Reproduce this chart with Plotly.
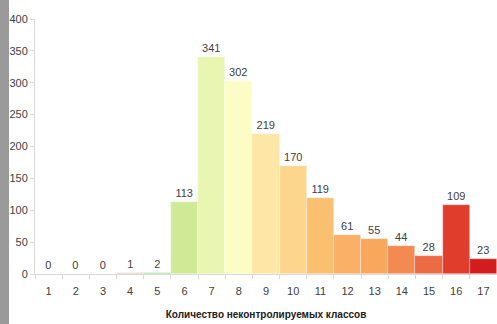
import plotly.graph_objects as go

# Number of uncontrolled classes and how many cases fall into each
classes = [str(i) for i in range(1, 18)]
counts = [0, 0, 0, 1, 2, 113, 341, 302, 219, 170, 119, 61, 55, 44, 28, 109, 23]
bar_colors = ["#f2d8d0", "#f2d8d0", "#f2d8d0", "#e2b4ac", "#7fd06a", "#cfe996",
              "#e8f6b2", "#fcfdc4", "#fde6a6", "#fdd68e", "#fbbf70", "#fab066",
              "#f9a75c", "#f28a52", "#ec6b45", "#e13d2d", "#d31c1e"]
y_ticks = [0, 50, 100, 150, 200, 250, 300, 350, 400]
x_title = "Количество неконтролируемых классов"

font_family = "Liberation Sans Narrow, Arial Narrow, Liberation Sans, Arial"

fig = go.Figure(go.Bar(
    x=classes, y=counts,
    marker=dict(color=bar_colors, line=dict(color="rgba(255,255,255,0.6)", width=0.6)),
    text=[str(v) for v in counts], textposition="outside",
    textfont=dict(family=font_family, size=11, color="#404040"),
    cliponaxis=False,
))

fig.update_layout(
    width=497, height=324,
    margin=dict(l=35, r=0, t=19, b=50),
    paper_bgcolor="white", plot_bgcolor="white",
    bargap=0, showlegend=False,
    font=dict(family=font_family, size=11, color="#404040"),
    xaxis=dict(
        type="category", showgrid=False,
        showline=True, linecolor="#d9d9d9", linewidth=1,
        ticks="outside", ticklen=4, tickcolor="#d9d9d9",
        tickson="boundaries", ticklabelstandoff=7,
        tickfont=dict(size=11, color="#404040"),
        title=dict(text="<b>" + x_title + "</b>", font=dict(size=10, color="#202020"), standoff=14),
    ),
    yaxis=dict(
        range=[0, 400], tickvals=y_ticks, showgrid=False,
        showline=True, linecolor="#d9d9d9", linewidth=1,
        ticks="outside", ticklen=4, tickcolor="#d9d9d9",
        tickfont=dict(size=11, color="#404040"), zeroline=False,
    ),
    shapes=[dict(type="rect", xref="paper", yref="paper", x0=-35/462, x1=-26/462, y0=-50/255, y1=1+19/255,
                 fillcolor="#9a9a9a", line=dict(width=0), layer="below")],
)

fig.write_html("out.html")
